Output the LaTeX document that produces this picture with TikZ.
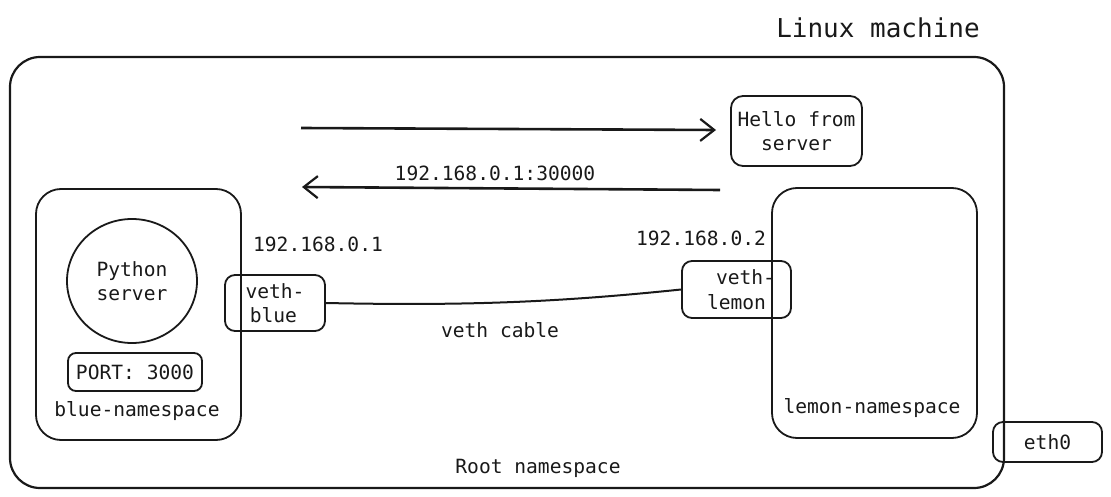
\documentclass[tikz,border=0pt]{standalone}
\usepackage{fontspec}
\setmonofont{DejaVu Sans Mono}
\usetikzlibrary{arrows.meta,shapes.geometric}
\begin{document}
\begin{tikzpicture}[x=1pt,y=-1pt,
  every node/.style={font=\ttfamily\fontsize{19.6}{24.5}\selectfont, text=black!90, inner sep=0pt},
  box/.style={draw=black!90, line width=1.8pt},
  conn/.style={draw=black!90, line width=2pt},
  flow/.style={draw=black!90, line width=2.6pt, -{Straight Barb[length=14pt,width=22pt,line width=2.2pt]}},
  lbl/.style={},
]
\useasboundingbox (0,0) rectangle (1111,497);

% root namespace
\node[box, line width=2.2pt, rounded corners=30pt, minimum width=994, minimum height=431] (root) at (507,272.5) {};
\node[lbl] (rootlbl) at (538,468) {Root namespace};
\node[lbl, font=\ttfamily\fontsize{26}{30}\selectfont] (linux) at (878,28) {Linux machine};

% blue namespace
\node[box, rounded corners=25pt, minimum width=205, minimum height=251] (bluens) at (138.5,314.5) {};
\node[box, ellipse, minimum width=130, minimum height=124, align=center] (py) at (132,281) {Python\\server};
\node[box, rounded corners=8pt, minimum width=134, minimum height=38] (port) at (135,372) {PORT: 3000};
\node[lbl] (bluelbl) at (137,411) {blue-namespace};

% veth-blue
\node[box, rounded corners=10pt, minimum width=100, minimum height=56, align=center] (vb) at (275,303) {veth-\\blue\,};
\node[lbl] (ipb) at (318,244) {192.168.0.1};

% hello box
\node[box, rounded corners=12pt, minimum width=131, minimum height=70, align=center] (hello) at (796.5,131) {Hello from\\server};

% lemon namespace
\node[box, rounded corners=25pt, minimum width=205, minimum height=250] (lemonns) at (874.5,313) {};
\node[lbl] (lemonlbl) at (872,408) {lemon-namespace};

% veth-lemon
\node[box, rounded corners=10pt, minimum width=109, minimum height=57, align=center] (vl) at (736.5,289.5) {\hspace*{18pt}veth-\\lemon};
\node[lbl] (ipl) at (701,238) {192.168.0.2};

% eth0
\node[box, rounded corners=10pt, minimum width=109, minimum height=40] (eth) at (1047.5,442) {eth0};

% veth cable
\draw[conn] (vb.east) .. controls (470,306) and (560,302) .. (vl.west);
\node[lbl] (cablelbl) at (500,330) {veth cable};

% flows
\coordinate (a1s) at (301,128);
\coordinate (a1e) at (716,130);
\coordinate (a2s) at (720,190);
\coordinate (a2e) at (302,187);
\draw[flow] (a1s) -- (a1e);
\draw[flow] (a2s) -- (a2e);
\node[lbl] (flowlbl) at (495,173) {192.168.0.1:30000};
\end{tikzpicture}
\end{document}
